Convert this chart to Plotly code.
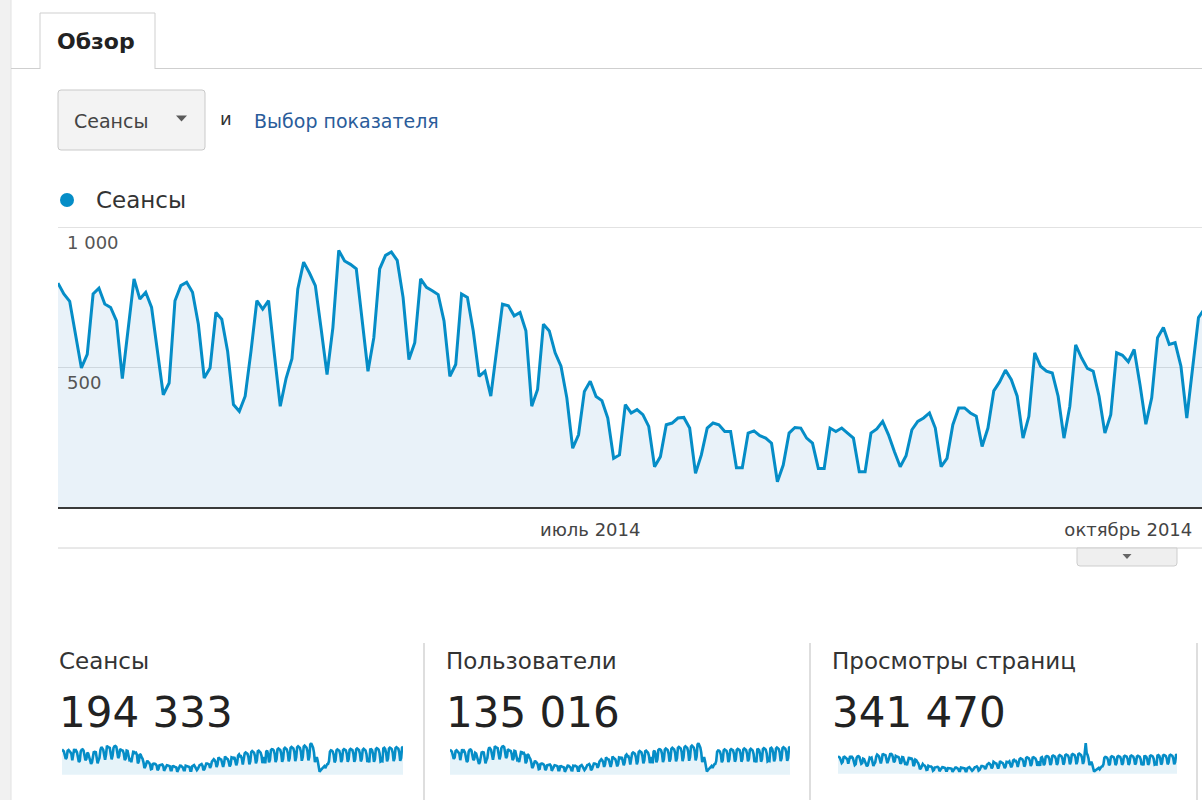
import plotly.graph_objects as go
import pandas as pd

W, H = 1202, 800


def px(x):
    return x / W


def py(y):
    return 1 - y / H


# ---------------- data (daily, 2014-04-01 .. 2015-03-31) ----------------
sessions_apr = [800, 761, 735, 617, 497, 545, 761, 782, 725, 713, 665, 459, 635, 815, 743, 767, 713, 557, 401, 443,
                737, 791, 803, 767, 653, 461, 497, 695, 671, 557]
sessions_may = [366, 342, 396, 557, 737, 707, 737, 545, 360, 460, 530, 779, 875, 836, 791, 635, 473, 641, 917, 879,
                867, 851, 665, 485, 605, 851, 899, 911, 881, 749, 527]
sessions_jun = [587, 815, 785, 773, 759, 665, 467, 509, 761, 749, 629, 467, 485, 396, 557, 725, 719, 683, 695, 630,
                360, 420, 653, 629, 551, 503, 390, 210, 258, 413]
sessions_jul = [449, 395, 380, 318, 174, 186, 366, 336, 348, 330, 288, 144, 180, 294, 300, 318, 320, 282, 120, 186,
                282, 300, 294, 270, 270, 140, 140, 264, 272, 255, 246]
sessions_aug = [228, 90, 150, 264, 284, 282, 246, 228, 138, 138, 282, 270, 282, 264, 246, 126, 126, 264, 279, 306,
                258, 198, 144, 183, 276, 306, 318, 336, 282, 144, 174]
sessions_sep = [294, 354, 354, 336, 324, 216, 282, 415, 447, 489, 455, 396, 246, 324, 551, 503, 485, 479, 396, 246,
                360, 579, 533, 495, 485, 396, 264, 330, 551, 542]
sessions_oct = [519, 563, 437, 296, 390, 605, 641, 581, 587, 503, 318, 497, 677, 707, 690, 660, 560, 330, 420, 720,
                750, 735, 700, 590, 360, 450, 740, 760, 730, 700, 600]
sessions_nov = [370, 450, 560, 360, 730, 760, 650, 390, 470, 780, 810, 800, 770, 660, 400, 490, 800, 830, 810, 780,
                670, 410, 500, 820, 850, 830, 800, 690, 420, 520]
sessions_dec = [850, 880, 860, 830, 720, 430, 550, 870, 900, 880, 850, 730, 440, 560, 890, 920, 900, 860, 740, 450,
                570, 960, 1000, 940, 860, 700, 400, 470, 560, 430, 210]
sessions_jan = [95, 140, 170, 190, 230, 270, 210, 310, 330, 340, 430, 730, 770, 760, 730, 630, 390, 460, 770, 800,
                790, 760, 650, 400, 480, 780, 810, 800, 770, 660, 410]
sessions_feb = [490, 790, 820, 810, 780, 670, 410, 490, 800, 830, 810, 780, 670, 420, 500, 790, 820, 800, 770, 660,
                400, 480, 390, 800, 810, 780, 660, 410]
sessions_mar = [490, 810, 840, 820, 790, 680, 420, 440, 430, 830, 850, 810, 690, 420, 510, 830, 860, 840, 810, 700,
                430, 520, 840, 870, 850, 820, 710, 440, 530, 860, 890]

users_apr = [555, 528, 510, 430, 350, 382, 526, 542, 503, 495, 462, 322, 440, 565, 515, 532, 494, 388, 283, 310,
             511, 548, 556, 531, 454, 324, 348, 482, 466, 389]
users_may = [259, 242, 279, 388, 510, 490, 511, 380, 254, 323, 370, 539, 604, 578, 547, 441, 331, 445, 633, 607,
             599, 588, 461, 340, 421, 588, 621, 629, 609, 519, 368]
users_jun = [408, 563, 543, 535, 525, 461, 327, 356, 526, 518, 437, 327, 339, 279, 388, 502, 498, 473, 481, 437,
             254, 295, 453, 436, 383, 350, 274, 150, 183, 289]
users_jul = [314, 277, 267, 224, 124, 133, 257, 236, 244, 232, 203, 103, 128, 207, 211, 224, 225, 199, 86, 132,
             198, 211, 207, 190, 191, 100, 101, 186, 192, 180, 174]
users_aug = [161, 65, 107, 186, 200, 199, 174, 161, 99, 98, 199, 190, 199, 186, 173, 90, 91, 186, 197, 215,
             182, 140, 103, 130, 194, 215, 224, 236, 198, 102, 124]
users_sep = [207, 249, 248, 236, 228, 153, 199, 291, 313, 342, 319, 278, 174, 228, 385, 352, 340, 336, 278, 173,
             253, 404, 373, 347, 340, 277, 186, 232, 385, 379]
users_oct = [363, 393, 306, 208, 274, 423, 447, 406, 410, 352, 224, 348, 472, 493, 481, 461, 391, 232, 295, 502,
             523, 513, 489, 412, 253, 316, 516, 530, 509, 489, 419]
users_nov = [260, 316, 391, 253, 509, 530, 454, 274, 330, 544, 565, 558, 537, 461, 281, 343, 558, 579, 565, 544,
             468, 288, 350, 572, 593, 579, 558, 482, 295, 364]
users_dec = [593, 614, 600, 579, 503, 302, 385, 607, 628, 614, 593, 510, 309, 392, 621, 641, 628, 600, 517, 316,
             399, 669, 697, 655, 600, 489, 281, 330, 392, 302, 149]
users_jan = [70, 100, 121, 135, 163, 191, 149, 219, 233, 240, 302, 510, 537, 530, 509, 440, 274, 323, 537, 558,
             551, 530, 454, 281, 337, 544, 565, 558, 537, 461, 288]
users_feb = [344, 551, 572, 565, 544, 468, 288, 344, 558, 579, 565, 544, 468, 295, 351, 551, 572, 558, 537, 461,
             281, 337, 274, 558, 565, 544, 461, 288]
users_mar = [344, 565, 586, 572, 551, 475, 295, 309, 302, 579, 593, 565, 482, 295, 358, 579, 600, 586, 565, 489,
             302, 365, 586, 607, 593, 572, 496, 309, 372, 600, 621]

pageviews_apr = [1405, 1330, 1290, 1080, 870, 950, 1335, 1370, 1270, 1250, 1165, 805, 1110, 1430, 1300, 1345, 1250,
                 975, 700, 775, 1290, 1385, 1405, 1340, 1145, 805, 870, 1215, 1175, 975]
pageviews_may = [640, 600, 695, 975, 1290, 1240, 1290, 955, 630, 805, 930, 1365, 1530, 1465, 1385, 1110, 830, 1120,
                 1605, 1540, 1515, 1490, 1165, 850, 1060, 1490, 1575, 1595, 1540, 1310, 920]
pageviews_jun = [1025, 1425, 1375, 1355, 1330, 1165, 815, 890, 1330, 1310, 1100, 815, 850, 695, 975, 1270, 1260, 1195,
                 1215, 1100, 630, 735, 1145, 1100, 965, 880, 685, 370, 450, 725]
pageviews_jul = [785, 690, 665, 555, 305, 325, 640, 590, 610, 580, 505, 250, 315, 515, 525, 555, 560, 495, 210, 325,
                 495, 525, 515, 475, 470, 245, 245, 460, 475, 445, 430]
pageviews_aug = [400, 160, 265, 460, 495, 495, 430, 400, 240, 240, 495, 475, 495, 460, 430, 220, 220, 460, 490, 535,
                 450, 345, 250, 320, 485, 535, 555, 590, 495, 250, 305]
pageviews_sep = [515, 620, 620, 590, 565, 380, 495, 725, 780, 855, 795, 695, 430, 565, 965, 880, 850, 840, 695, 430,
                 630, 1015, 935, 865, 850, 695, 460, 580, 965, 950]
pageviews_oct = [910, 985, 765, 520, 685, 1060, 1120, 1015, 1025, 880, 555, 870, 1185, 1235, 1210, 1155, 980, 580,
                 735, 1260, 1315, 1285, 1225, 1035, 630, 790, 1295, 1330, 1280, 1225, 1050]
pageviews_nov = [650, 790, 980, 630, 1280, 1330, 1140, 685, 825, 1365, 1420, 1400, 1350, 1155, 700, 860, 1400, 1455,
                 1420, 1365, 1175, 720, 875, 1435, 1490, 1455, 1400, 1210, 735, 910]
pageviews_dec = [1490, 1540, 1505, 1455, 1260, 755, 965, 1525, 1575, 1540, 1490, 1280, 770, 980, 1560, 1610, 1575,
                 1505, 1295, 790, 1000, 1680, 2450, 1650, 1505, 1225, 700, 825, 980, 755, 370]
pageviews_jan = [170, 250, 300, 335, 405, 475, 370, 545, 580, 595, 755, 1280, 1350, 1330, 1280, 1105, 685, 805, 1350,
                 1400, 1385, 1330, 1140, 700, 840, 1365, 1420, 1400, 1350, 1155, 720]
pageviews_feb = [860, 1385, 1435, 1420, 1365, 1175, 720, 860, 1400, 1455, 1420, 1365, 1175, 735, 875, 1385, 1435,
                 1400, 1350, 1155, 700, 840, 685, 1400, 1420, 1365, 1155, 720]
pageviews_mar = [860, 1420, 1470, 1435, 1385, 1190, 735, 770, 755, 1455, 1490, 1420, 1210, 735, 895, 1455, 1505, 1470,
                 1420, 1225, 755, 910, 1470, 1525, 1490, 1435, 1245, 770, 930, 1505, 1560]

y_tick_values = [500, 1000]
y_tick_labels = ["500", "1 000"]
x_tick_dates = ["2014-07-01", "2014-10-01"]
x_tick_labels = ["июль 2014", "октябрь 2014"]
kpi_titles = ["Сеансы", "Пользователи", "Просмотры страниц"]
kpi_values = ["194 333", "135 016", "341 470"]
metric_label = "Сеансы"

sessions = (sessions_apr + sessions_may + sessions_jun + sessions_jul + sessions_aug + sessions_sep +
            sessions_oct + sessions_nov + sessions_dec + sessions_jan + sessions_feb + sessions_mar)
users = (users_apr + users_may + users_jun + users_jul + users_aug + users_sep +
         users_oct + users_nov + users_dec + users_jan + users_feb + users_mar)
pageviews = (pageviews_apr + pageviews_may + pageviews_jun + pageviews_jul + pageviews_aug + pageviews_sep +
             pageviews_oct + pageviews_nov + pageviews_dec + pageviews_jan + pageviews_feb + pageviews_mar)
dates = pd.date_range("2014-04-01", periods=len(sessions), freq="D")

# ---------------- style ----------------
FONT = "DejaVu Sans, Arial, sans-serif"
BLUE = "#058dc7"
FILL = "rgba(10,110,190,0.09)"

fig = go.Figure()

# main chart
fig.add_trace(go.Scatter(
    x=dates, y=sessions, mode="lines",
    line=dict(color=BLUE, width=3), fill="tozeroy", fillcolor=FILL,
    xaxis="x", yaxis="y", hoverinfo="skip", showlegend=False,
))

# sparklines
spark_series = [sessions, users, pageviews]
spark_x = [(62, 403), (450, 790), (838, 1177)]
for i, (ser, (x0, x1)) in enumerate(zip(spark_series, spark_x)):
    n = i + 2
    fig.add_trace(go.Scatter(
        x=dates[:len(ser)], y=ser, mode="lines",
        line=dict(color=BLUE, width=2.6), fill="tozeroy", fillcolor="rgba(5,141,199,0.10)",
        xaxis=f"x{n}", yaxis=f"y{n}", hoverinfo="skip", showlegend=False,
    ))

layout = dict(
    width=W, height=H, margin=dict(l=0, r=0, t=0, b=0),
    paper_bgcolor="white", plot_bgcolor="rgba(0,0,0,0)",
    font=dict(family=FONT, color="#333"),
    showlegend=False,
    xaxis=dict(
        domain=[px(58), 1.0], type="date",
        range=["2014-04-01", "2014-10-13 14:24"],
        showgrid=False, zeroline=False,
        showline=True, linecolor="#3a3a3a", linewidth=2,
        tickvals=x_tick_dates, ticktext=x_tick_labels,
        ticks="outside", ticklen=5, tickcolor="rgba(0,0,0,0)",
        tickfont=dict(family=FONT, size=18, color="#444"),
        fixedrange=True,
    ),
    yaxis=dict(
        domain=[py(507), py(226)], range=[0, 1004],
        showgrid=True, gridcolor="#e2e2e2", gridwidth=1,
        zeroline=False, showline=False,
        tickvals=y_tick_values, ticktext=y_tick_labels,
        ticks="", ticklabelposition="inside",
        ticklabelshift=16, ticklabelstandoff=6,
        tickfont=dict(family=FONT, size=18, color="#555"),
        fixedrange=True,
    ),
)

for i, (ser, (x0, x1)) in enumerate(zip(spark_series, spark_x)):
    n = i + 2
    lo, hi = min(ser), max(ser)
    span = hi - lo
    layout[f"xaxis{n}"] = dict(domain=[px(x0), px(x1)], visible=False,
                               range=[dates[0], dates[len(ser) - 1]], fixedrange=True)
    layout[f"yaxis{n}"] = dict(domain=[py(777), py(742)], visible=False,
                               range=[lo - 0.18 * span, hi + 0.04 * span], fixedrange=True)

fig.update_layout(**layout)

# ---------------- page chrome (shapes) ----------------
shapes = []
# left gray strip
shapes.append(dict(type="rect", xref="paper", yref="paper", x0=0, x1=px(11), y0=0, y1=1,
                   fillcolor="#f1f1f1", line=dict(width=0), layer="below"))
shapes.append(dict(type="line", xref="paper", yref="paper", x0=px(11), x1=px(11), y0=0, y1=1,
                   line=dict(color="#e2e2e2", width=1)))
# tab line and tab
for a, b in [(11, 40), (155, 1202)]:
    shapes.append(dict(type="line", xref="paper", yref="paper", x0=px(a), x1=px(b), y0=py(68.5), y1=py(68.5),
                       line=dict(color="#cfcfcf", width=1)))
shapes.append(dict(type="path", xref="paper", yref="paper",
                   path=f"M {px(40)},{py(69)} L {px(40)},{py(13)} L {px(155)},{py(13)} L {px(155)},{py(69)}",
                   line=dict(color="#cfcfcf", width=1), fillcolor="white"))


def rounded(x0, y0, x1, y1, r):
    return (f"M {px(x0 + r)},{py(y0)} L {px(x1 - r)},{py(y0)} Q {px(x1)},{py(y0)} {px(x1)},{py(y0 + r)} "
            f"L {px(x1)},{py(y1 - r)} Q {px(x1)},{py(y1)} {px(x1 - r)},{py(y1)} "
            f"L {px(x0 + r)},{py(y1)} Q {px(x0)},{py(y1)} {px(x0)},{py(y1 - r)} "
            f"L {px(x0)},{py(y0 + r)} Q {px(x0)},{py(y0)} {px(x0 + r)},{py(y0)} Z")


# dropdown button
shapes.append(dict(type="path", xref="paper", yref="paper", path=rounded(58, 90, 205, 150, 3),
                   fillcolor="#f3f3f3", line=dict(color="#c9c9c9", width=1)))
shapes.append(dict(type="path", xref="paper", yref="paper",
                   path=f"M {px(176)},{py(115.5)} L {px(187)},{py(115.5)} L {px(181.5)},{py(121.5)} Z",
                   fillcolor="#5a5a5a", line=dict(width=0)))
# legend dot
shapes.append(dict(type="circle", xref="paper", yref="paper", x0=px(60), x1=px(74), y0=py(193), y1=py(207),
                   fillcolor=BLUE, line=dict(width=0)))
# line below chart and small expand button
shapes.append(dict(type="line", xref="paper", yref="paper", x0=px(58), x1=1, y0=py(548), y1=py(548),
                   line=dict(color="#d2d2d2", width=1)))
shapes.append(dict(type="path", xref="paper", yref="paper",
                   path=(f"M {px(1077)},{py(548)} L {px(1177)},{py(548)} L {px(1177)},{py(563)} "
                         f"Q {px(1177)},{py(566)} {px(1174)},{py(566)} L {px(1080)},{py(566)} "
                         f"Q {px(1077)},{py(566)} {px(1077)},{py(563)} Z"),
                   fillcolor="#efefef", line=dict(color="#cdcdcd", width=1)))
shapes.append(dict(type="path", xref="paper", yref="paper",
                   path=f"M {px(1122.5)},{py(554)} L {px(1131.5)},{py(554)} L {px(1127)},{py(559)} Z",
                   fillcolor="#666", line=dict(width=0)))
# card separators
for xs in [424, 810, 1197]:
    shapes.append(dict(type="line", xref="paper", yref="paper", x0=px(xs), x1=px(xs), y0=py(643), y1=0,
                       line=dict(color="#dedede", width=2)))
fig.update_layout(shapes=shapes)

# ---------------- texts ----------------
ann = []


def text(x, y, s, size, color="#333", bold=False):
    ann.append(dict(xref="paper", yref="paper", x=px(x), y=py(y), xanchor="left", yanchor="middle",
                    text=f"<b>{s}</b>" if bold else s, showarrow=False,
                    font=dict(family=FONT, size=size, color=color)))


text(55, 42, "Обзор", 22, "#222", bold=True)
text(72, 121, metric_label, 19, "#444")
text(218, 119, "и", 18, "#333")
text(252, 121, "Выбор показателя", 19, "#2a5c9a")
text(94, 200, metric_label, 23, "#333")

card_x = [57, 444, 830]
for cx, t, v in zip(card_x, kpi_titles, kpi_values):
    text(cx, 661, t, 23, "#333")
    text(cx, 712, v, 42, "#222")

fig.update_layout(annotations=ann)

fig.write_html("out.html")
